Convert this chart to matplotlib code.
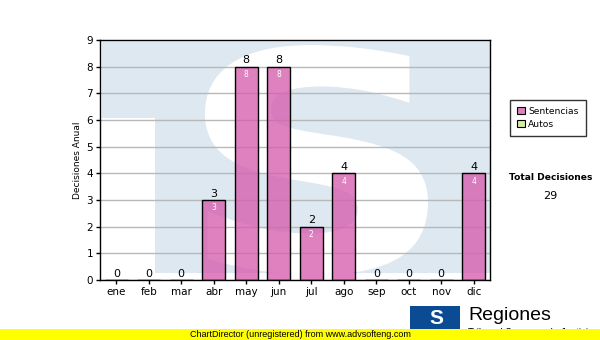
import matplotlib
matplotlib.use("Agg")
import matplotlib.pyplot as plt
from matplotlib.patches import Rectangle, PathPatch, Patch
from matplotlib.textpath import TextPath
from matplotlib.font_manager import FontProperties
from matplotlib.transforms import Affine2D

months = ["ene", "feb", "mar", "abr", "may", "jun", "jul", "ago", "sep", "oct", "nov", "dic"]
sentencias = [0, 0, 0, 3, 8, 8, 2, 4, 0, 0, 0, 4]
autos = [0] * 12
total = 29
y_ticks = list(range(0, 10))

W, H = 600, 340
fig = plt.figure(figsize=(W / 100, H / 100), dpi=100)
fig.patch.set_facecolor("white")

ax = fig.add_axes([100 / W, (H - 280) / H, 390 / W, 240 / H])
ax.set_facecolor("white")

# watermark (TS logo) in axes fraction
blue_bg = "#dde8f1"
ax.add_patch(Rectangle((0.005, 0.029), 0.995, 0.963, transform=ax.transAxes,
                       facecolor=blue_bg, edgecolor="none", zorder=0))
ax.add_patch(Rectangle((0, 0), 0.141, 0.675, transform=ax.transAxes,
                       facecolor="white", edgecolor="none", zorder=0.1))
tp = TextPath((0, 0), "S", prop=FontProperties(family="DejaVu Sans", weight="bold"))
ext = tp.get_extents()
x0, x1, y0, y1 = 0.269, 0.841, 0.021, 0.979
tr = Affine2D().translate(-ext.x0, -ext.y0).scale((x1 - x0) / ext.width, (y1 - y0) / ext.height).translate(x0, y0)
ax.add_patch(PathPatch(tr.transform_path(tp), transform=ax.transAxes,
                       facecolor="white", edgecolor="none", zorder=0.2))

x = list(range(len(months)))
ax.bar(x, sentencias, width=0.71, color="#d760b0", alpha=0.8, edgecolor="none", zorder=3)
ax.bar(x, sentencias, width=0.71, fill=False, edgecolor="black", linewidth=1.0, zorder=4)

for xi, v in zip(x, sentencias):
    ax.text(xi, v + 0.05, str(v), ha="center", va="bottom", fontsize=8, color="black", zorder=5)
    if v > 0:
        ax.text(xi, v - 0.12, str(v), ha="center", va="top", fontsize=5.5, color="white", zorder=5)

ax.set_xlim(-0.5, 11.5)
ax.set_ylim(0, 9)
ax.set_yticks(y_ticks)
ax.set_xticks(x)
ax.set_xticklabels(months)
ax.tick_params(axis="both", labelsize=7.5, length=3, width=1, direction="out", colors="black", pad=2)
ax.yaxis.grid(True, color="#b8b8b8", linewidth=1, zorder=1)
ax.set_axisbelow(False)
for gl in ax.get_ygridlines():
    gl.set_zorder(1)
for s in ax.spines.values():
    s.set_color("black")
    s.set_linewidth(1)
    s.set_zorder(6)
ax.set_ylabel("Decisiones Anual", fontsize=6.5, labelpad=3)

# legend
handles = [Patch(facecolor="#dd80c0", edgecolor="black", linewidth=0.8, label="Sentencias"),
           Patch(facecolor="#d8eaa0", edgecolor="black", linewidth=0.8, label="Autos")]
leg = fig.legend(handles=handles, loc="upper left", bbox_to_anchor=(510 / W, 1 - 100 / H),
                 fontsize=6.6, frameon=True, fancybox=False, handlelength=0.85, handleheight=0.85,
                 handletextpad=0.4, borderpad=0.75, labelspacing=0.42, borderaxespad=0)
leg.get_frame().set_edgecolor("black")
leg.get_frame().set_linewidth(1)

fig.text(551 / W, 1 - 177 / H, "Total Decisiones", ha="center", va="center", fontsize=6.6, fontweight="bold")
fig.text(550 / W, 1 - 196 / H, str(total), ha="center", va="center", fontsize=8)

# bottom logo
fig.patches.append(Rectangle((410 / W, 1 - 332 / H), 50 / W, 26 / H, transform=fig.transFigure,
                             facecolor="#0b4b93", edgecolor="none", zorder=1))
fig.text(436 / W, 1 - 318 / H, "S", ha="center", va="center", fontsize=15, fontweight="bold",
         color="white", family="Liberation Sans", zorder=1.5)
fig.text(468 / W, 1 - 315 / H, "Regiones", ha="left", va="center", fontsize=14,
         family="Liberation Sans", zorder=1.5)
fig.text(468 / W, 1 - 333 / H, "Tribunal Supremo de Justicia", ha="left", va="center", fontsize=7,
         family="Liberation Sans", zorder=1.5)

# yellow footer
fig.patches.append(Rectangle((0, 0), 1, 11 / H, transform=fig.transFigure,
                             facecolor="#ffff00", edgecolor="none", zorder=3))
fig.text(300 / W, 5.5 / H, "ChartDirector (unregistered) from www.advsofteng.com", ha="center",
         va="center", fontsize=6.5, family="Liberation Sans", zorder=4)

fig.savefig("out.png", dpi=100)
